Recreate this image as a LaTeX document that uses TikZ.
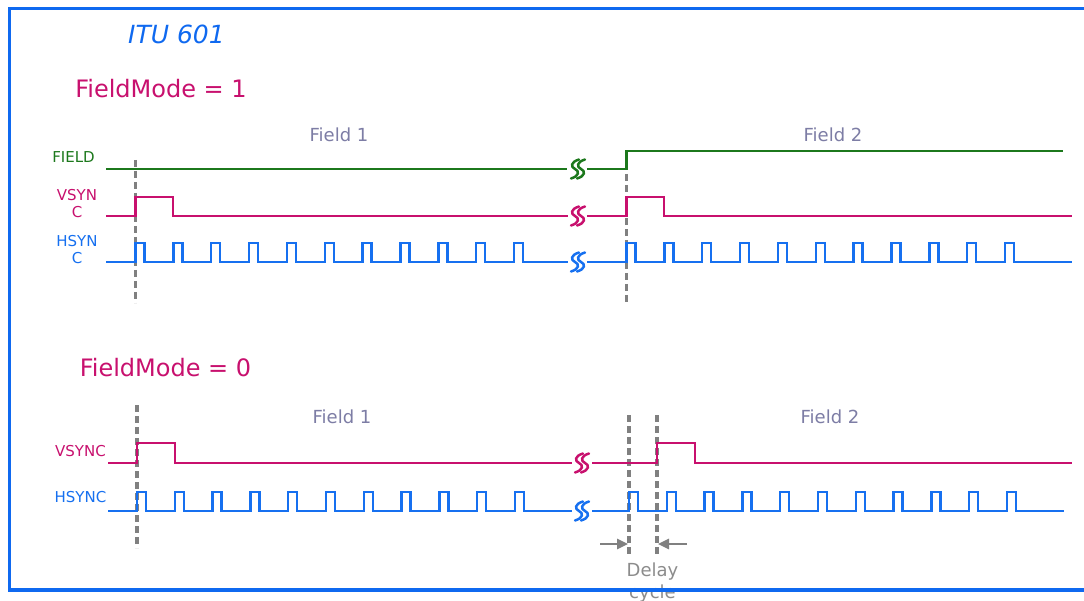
\documentclass[tikz,border=0pt]{standalone}
\usepackage{fontspec}
\setmainfont{DejaVu Sans}
\usetikzlibrary{arrows.meta}
\definecolor{sgreen}{RGB}{28,120,28}
\definecolor{smag}{RGB}{200,16,110}
\definecolor{sblue}{RGB}{22,112,240}
\definecolor{fblue}{RGB}{15,105,240}
\definecolor{ftext}{RGB}{125,125,165}
\definecolor{dgray}{RGB}{128,128,128}
\definecolor{tgray}{RGB}{140,140,140}
\tikzset{
  sig/.style={line width=2.5pt, line join=miter},
  guide/.style={dgray, line width=3.5pt, dash pattern=on 7pt off 4pt},
  brk/.style={line width=2.5pt, line cap=round},
  lbl/.style={inner sep=0pt, font=\fontsize{15}{17}\selectfont, align=center},
  fieldtxt/.style={inner sep=0pt, text=ftext, font=\fontsize{18}{20}\selectfont},
  modetxt/.style={inner sep=0pt, text=smag, font=\fontsize{24}{28}\selectfont},
  gap/.pic={
    \draw[brk] (-3+4,-9.5) .. controls (-3-4.5,-7) and (-3-4.5,-2) .. (-3,0) .. controls (-3+4.5,2) and (-3+4.5,7) .. (-3-4,9.5);
    \draw[brk] (3+4,-9.5) .. controls (3-4.5,-7) and (3-4.5,-2) .. (3,0) .. controls (3+4.5,2) and (3+4.5,7) .. (3-4,9.5);
  }
}
\begin{document}
\begin{tikzpicture}[x=1pt,y=-1pt]
\useasboundingbox (0,0) rectangle (1084,601);
\fill[white] (0,0) rectangle (1084,601);

% titles
\node[inner sep=0pt, text=fblue, font=\fontsize{25}{28}\selectfont\itshape] (title) at (176.5,34) {ITU 601};
\node[modetxt] (mode1) at (161,89) {FieldMode = 1};
\node[modetxt] (mode0) at (165.5,368) {FieldMode = 0};
\node[fieldtxt] (f1a) at (339,135) {Field 1};
\node[fieldtxt] (f2a) at (833,135) {Field 2};
\node[fieldtxt] (f1b) at (342,417) {Field 1};
\node[fieldtxt] (f2b) at (830,417) {Field 2};

% signal labels
\node[lbl, text=sgreen] (lfield) at (73.5,157) {FIELD};
\node[lbl, text=smag] (lvs1) at (77,203.5) {VSYN\\C};
\node[lbl, text=sblue] (lhs1) at (77,249.5) {HSYN\\C};
\node[lbl, text=smag] (lvs2) at (80.5,451) {VSYNC};
\node[lbl, text=sblue] (lhs2) at (80.5,497) {HSYNC};

% guides (top)
\draw[guide] (135.5,160) -- (135.5,303);
\draw[guide] (626.5,152) -- (626.5,303);
% guides (bottom)
\draw[guide] (137,405) -- (137,548);
\draw[guide] (629,415) -- (629,557);
\draw[guide] (657,415) -- (657,557);

% FIELD top
\draw[sig, sgreen] (106,169) -- (567,169);
\draw[sig, sgreen] (587,169) -- (626.5,169) -- (626.5,151) -- (1063,151);
\pic[sgreen] at (578,169) {gap};

% VSYNC top
\draw[sig, smag] (106,216) -- (135.5,216) -- (135.5,197) -- (173,197) -- (173,216) -- (568,216);
\draw[sig, smag] (587,216) -- (626.5,216) -- (626.5,197) -- (664,197) -- (664,216) -- (1072,216);
\pic[smag] at (578,216) {gap};

% HSYNC top
\draw[sig, sblue] (106,262) \foreach \k in {0,...,10}{ -- ({135.5+37.85*\k},262) -- ++(0,-19) -- ++(9,0) -- ++(0,19)} -- (568,262);
\draw[sig, sblue] (587,262) \foreach \k in {0,...,10}{ -- ({626.5+37.85*\k},262) -- ++(0,-19) -- ++(9,0) -- ++(0,19)} -- (1072,262);
\pic[sblue] at (578,262) {gap};

% VSYNC bottom
\draw[sig, smag] (108,463) -- (137,463) -- (137,443) -- (175,443) -- (175,463) -- (572,463);
\draw[sig, smag] (592,463) -- (657,463) -- (657,443) -- (695,443) -- (695,463) -- (1072,463);
\pic[smag] at (582,463) {gap};

% HSYNC bottom
\draw[sig, sblue] (108,511) \foreach \k in {0,...,10}{ -- ({137+37.8*\k},511) -- ++(0,-19) -- ++(9,0) -- ++(0,19)} -- (572,511);
\draw[sig, sblue] (592,511) \foreach \k in {0,...,10}{ -- ({629+37.8*\k},511) -- ++(0,-19) -- ++(9,0) -- ++(0,19)} -- (1064,511);
\pic[sblue] at (582,511) {gap};

% delay arrows
\coordinate (la) at (600,544);
\coordinate (lt) at (628,544);
\coordinate (ra) at (687,544);
\coordinate (rt) at (658,544);
\draw[dgray, line width=2.5pt, -{Triangle[length=11pt,width=10pt]}] (la) -- (lt);
\draw[dgray, line width=2.5pt, -{Triangle[length=11pt,width=10pt]}] (ra) -- (rt);
\node[inner sep=0pt, anchor=base, text=tgray, font=\fontsize{18}{20}\selectfont] (delay) at (652.5,576) {Delay};
\node[inner sep=0pt, anchor=base, text=tgray, font=\fontsize{18}{20}\selectfont] (cycle) at (652.5,598) {cycle};

% frame
\draw[fblue, line width=3.5pt] (1095,8.5) -- (9.5,8.5) -- (9.5,590) -- (1095,590);
\end{tikzpicture}
\end{document}
